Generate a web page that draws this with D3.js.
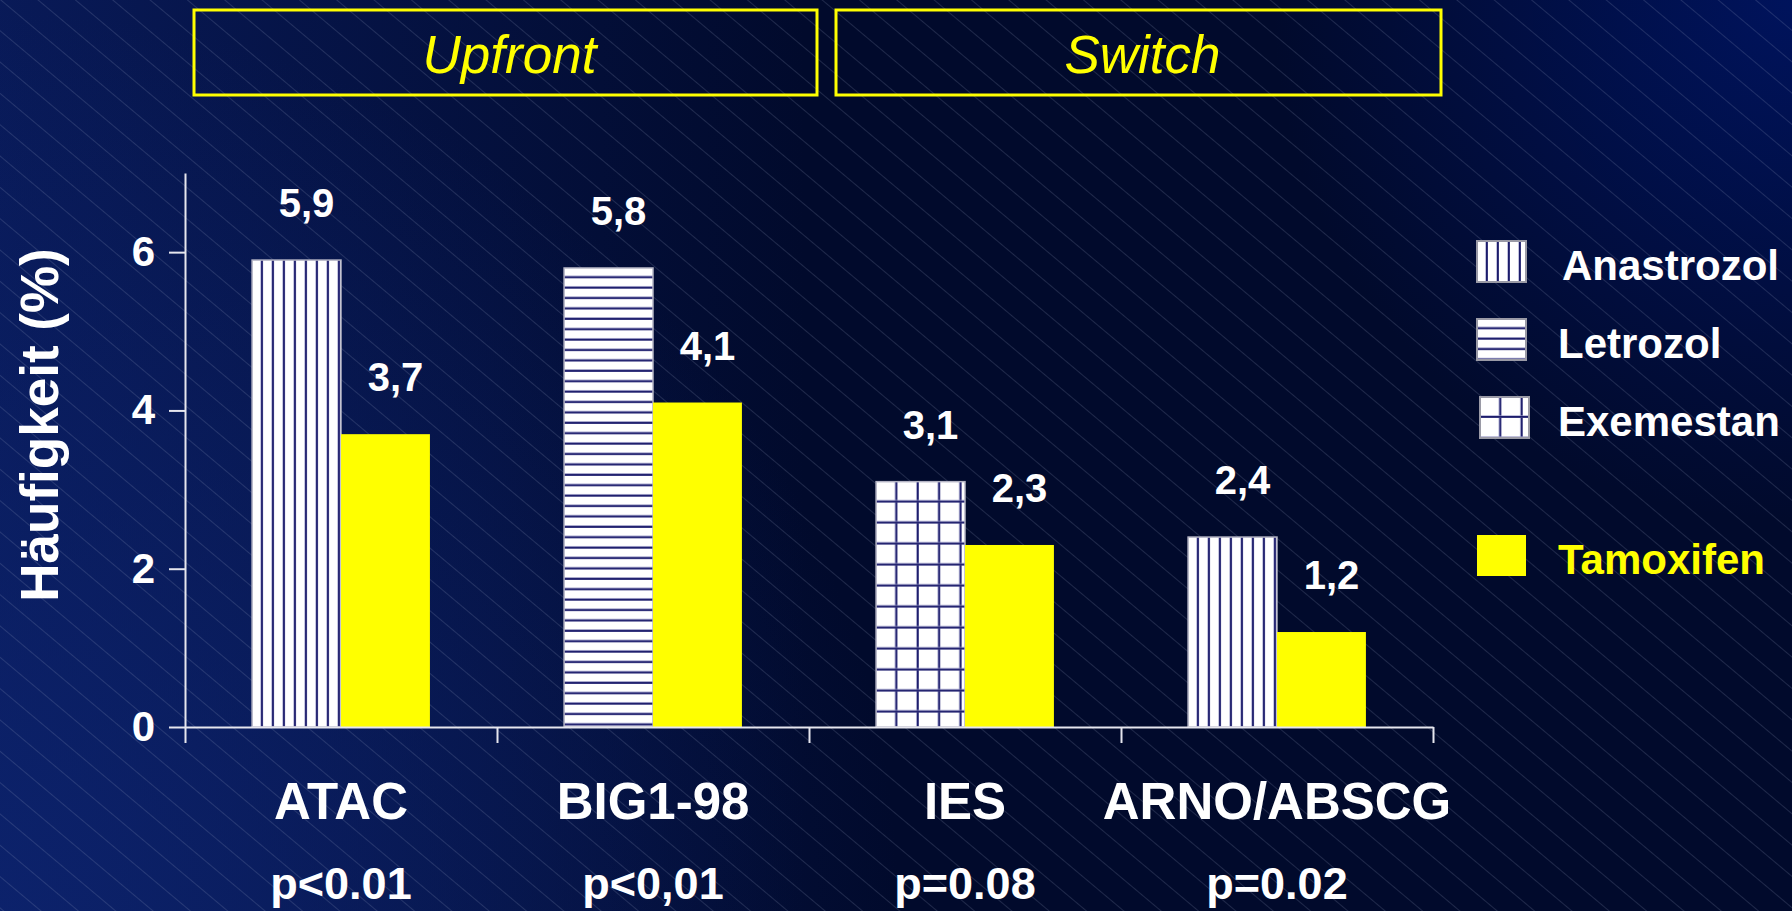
<!DOCTYPE html>
<html>
<head>
<meta charset="utf-8">
<script src="https://cdn.jsdelivr.net/npm/d3@7"></script>
<style>
  html, body { margin: 0; padding: 0; background: #010b30; overflow: hidden; }
  svg { display: block; font-family: "Liberation Sans", Arial, sans-serif; }
</style>
</head>
<body>
<div id="chart"></div>
<script>
// data
const categories = ['ATAC', 'BIG1-98', 'IES', 'ARNO/ABSCG'];
const pValues = ['p<0.01', 'p<0,01', 'p=0.08', 'p=0.02'];
const aiDrugs = ['Anastrozol', 'Letrozol', 'Exemestan', 'Anastrozol'];
const aiValues = [5.9, 5.8, 3.1, 2.4];
const tamValues = [3.7, 4.1, 2.3, 1.2];
const yTicks = [0, 2, 4, 6];
const groups = ['Upfront', 'Switch'];
const groupSpans = [[0, 1], [2, 3]];
const legendItems = ['Anastrozol', 'Letrozol', 'Exemestan', 'Tamoxifen'];

const patternType = { Anastrozol: 'vertical', Letrozol: 'horizontal', Exemestan: 'grid' };

const W = 1792, H = 911;
const svg = d3.select('#chart').append('svg').attr('width', W).attr('height', H);
const defs = svg.append('defs');

// background: dark navy, lighter toward the left edge and the top-right corner
const lg = defs.append('linearGradient').attr('id', 'bgLeft')
  .attr('x1', '0%').attr('y1', '0%').attr('x2', '100%').attr('y2', '0%');
lg.append('stop').attr('offset', '0%').attr('stop-color', '#0b1f66').attr('stop-opacity', 0.75);
lg.append('stop').attr('offset', '45%').attr('stop-color', '#0b1f66').attr('stop-opacity', 0);
const rg1 = defs.append('radialGradient').attr('id', 'bgLow')
  .attr('gradientUnits', 'userSpaceOnUse').attr('cx', 0).attr('cy', H).attr('r', 900);
rg1.append('stop').attr('offset', '0%').attr('stop-color', '#0d2470').attr('stop-opacity', 0.8);
rg1.append('stop').attr('offset', '100%').attr('stop-color', '#0d2470').attr('stop-opacity', 0);
const rg2 = defs.append('radialGradient').attr('id', 'bgHigh')
  .attr('gradientUnits', 'userSpaceOnUse').attr('cx', W).attr('cy', 0).attr('r', 520);
rg2.append('stop').attr('offset', '0%').attr('stop-color', '#00135c').attr('stop-opacity', 1);
rg2.append('stop').attr('offset', '100%').attr('stop-color', '#00135c').attr('stop-opacity', 0);

// thin diagonal hairlines running down to the right
const diag = defs.append('pattern').attr('id', 'diag')
  .attr('patternUnits', 'userSpaceOnUse').attr('width', 24).attr('height', 24)
  .attr('patternTransform', 'rotate(-50)');
diag.append('line').attr('x1', 0).attr('y1', 0).attr('x2', 0).attr('y2', 24)
  .attr('stroke', '#9aa3c4').attr('stroke-opacity', 0.4).attr('stroke-width', 1);

svg.append('rect').attr('width', W).attr('height', H).attr('fill', '#010a2c');
svg.append('rect').attr('width', W).attr('height', H).attr('fill', 'url(#bgLeft)');
svg.append('rect').attr('width', W).attr('height', H).attr('fill', 'url(#bgLow)');
svg.append('rect').attr('width', W).attr('height', H).attr('fill', 'url(#bgHigh)');
svg.append('rect').attr('width', W).attr('height', H).attr('fill', 'url(#diag)');

// fill patterns, anchored at the top-left corner of each shape
function addPattern(id, type, x0, y0) {
  const dark = '#1c1c6b', soft = '#9a9ac8';
  let w = 11, h = 10;
  if (type === 'horizontal') { w = 10; h = 10.4; }
  if (type === 'grid') { w = 21.4; h = 21; }
  const p = defs.append('pattern').attr('id', id)
    .attr('patternUnits', 'userSpaceOnUse')
    .attr('x', x0).attr('y', y0).attr('width', w).attr('height', h);
  p.append('rect').attr('width', w).attr('height', h).attr('fill', '#ffffff');
  if (type === 'vertical' || type === 'grid') {
    p.append('rect').attr('x', w - 2.6).attr('width', 3).attr('height', h).attr('fill', soft);
    p.append('rect').attr('x', w - 2).attr('width', 1.8).attr('height', h).attr('fill', dark);
  }
  if (type === 'horizontal' || type === 'grid') {
    p.append('rect').attr('y', h - 2.6).attr('height', 3).attr('width', w).attr('fill', soft);
    p.append('rect').attr('y', h - 2).attr('height', 1.8).attr('width', w).attr('fill', dark);
  }
}

const margin = { left: 185, right: 1433, top: 173, bottom: 727 };

const x = d3.scaleBand().domain(categories)
  .range([margin.left, margin.right]).paddingInner(0.43).paddingOuter(0.215);
const xSub = d3.scaleBand().domain(['ai', 'tam']).range([0, x.bandwidth()]);
const xEdge = d3.scaleLinear().domain([0, categories.length]).range([margin.left, margin.right]);
const y = d3.scaleLinear().domain([0, 7]).range([margin.bottom, margin.top]);

// group header boxes
groups.forEach((g, i) => {
  const [a, b] = groupSpans[i];
  const x0 = xEdge(a) + (i ? 27 : 9);
  const x1 = xEdge(b + 1) + 8;
  svg.append('rect')
    .attr('x', x0).attr('y', 10).attr('width', x1 - x0).attr('height', 85)
    .attr('fill', 'none').attr('stroke', '#ffff00').attr('stroke-width', 3);
  svg.append('text')
    .attr('x', (x0 + x1) / 2 + 4).attr('y', 73)
    .attr('text-anchor', 'middle')
    .attr('font-size', '53px').attr('font-style', 'italic')
    .attr('fill', '#ffff00').text(g);
});

// bars
const barData = [];
categories.forEach((c, i) => {
  barData.push({ cat: c, key: 'ai', drug: aiDrugs[i], value: aiValues[i] });
  barData.push({ cat: c, key: 'tam', drug: 'Tamoxifen', value: tamValues[i] });
});

barData.forEach((d, i) => {
  const bx = x(d.cat) + xSub(d.key);
  const by = y(d.value);
  let fill = '#ffff00';
  if (d.key === 'ai') {
    addPattern('bar' + i, patternType[d.drug], bx, by);
    fill = 'url(#bar' + i + ')';
  }
  svg.append('rect')
    .attr('x', bx).attr('y', by)
    .attr('width', xSub.bandwidth()).attr('height', y(0) - by)
    .attr('fill', fill)
    .attr('stroke', d.key === 'ai' ? '#b4b4c4' : 'none')
    .attr('stroke-width', 1.5);
  svg.append('text')
    .attr('x', bx + xSub.bandwidth() / 2 + 10).attr('y', by - 43)
    .attr('text-anchor', 'middle')
    .attr('font-size', '40px').attr('font-weight', 'bold')
    .attr('fill', '#ffffff')
    .text(d.value.toFixed(1).replace('.', ','));
});

// axes
const yAxis = d3.axisLeft(y).tickValues(yTicks).tickFormat(d3.format('d'))
  .tickSize(16).tickSizeOuter(0).tickPadding(14);
const gy = svg.append('g').attr('transform', `translate(${margin.left},0)`).call(yAxis);
const xAxis = d3.axisBottom(xEdge).tickValues(d3.range(categories.length + 1))
  .tickSize(16).tickSizeOuter(0).tickFormat('');
const gx = svg.append('g').attr('transform', `translate(0,${margin.bottom})`).call(xAxis);
[gy, gx].forEach((g) => {
  g.selectAll('path, line').attr('stroke', '#e6e6ee').attr('stroke-width', 2);
});
gy.selectAll('text')
  .attr('font-size', '42px').attr('font-weight', 'bold')
  .attr('font-family', '"Liberation Sans", Arial, sans-serif')
  .attr('fill', '#ffffff');

svg.append('text')
  .attr('transform', 'translate(58,425) rotate(-90)')
  .attr('text-anchor', 'middle')
  .attr('font-size', '53px').attr('font-weight', 'bold')
  .attr('fill', '#ffffff')
  .text('Häufigkeit (%)');

// category names and p-values
categories.forEach((c, i) => {
  const cx = x(c) + x.bandwidth() / 2;
  svg.append('text')
    .attr('x', cx).attr('y', 819)
    .attr('text-anchor', 'middle')
    .attr('font-size', '51px').attr('font-weight', 'bold')
    .attr('fill', '#ffffff').text(c);
  svg.append('text')
    .attr('x', cx).attr('y', 899)
    .attr('text-anchor', 'middle')
    .attr('font-size', '45px').attr('font-weight', 'bold')
    .attr('fill', '#ffffff').text(pValues[i]);
});

// legend
const legendTop = [241, 319, 397, 535];
legendItems.forEach((name, i) => {
  const lx = name === 'Exemestan' ? 1480 : 1477;
  const ly = legendTop[i];
  let fill = '#ffff00';
  if (patternType[name]) {
    addPattern('leg' + i, patternType[name], lx, ly);
    fill = 'url(#leg' + i + ')';
  }
  svg.append('rect')
    .attr('x', lx).attr('y', ly).attr('width', 49).attr('height', 41)
    .attr('fill', fill)
    .attr('stroke', patternType[name] ? '#9a9aa6' : 'none')
    .attr('stroke-width', 2);
  svg.append('text')
    .attr('x', i === 0 ? 1562 : 1558).attr('y', ly + 39)
    .attr('font-size', '42px').attr('font-weight', 'bold')
    .attr('fill', name === 'Tamoxifen' ? '#ffff00' : '#ffffff')
    .text(name);
});
</script>
</body>
</html>
